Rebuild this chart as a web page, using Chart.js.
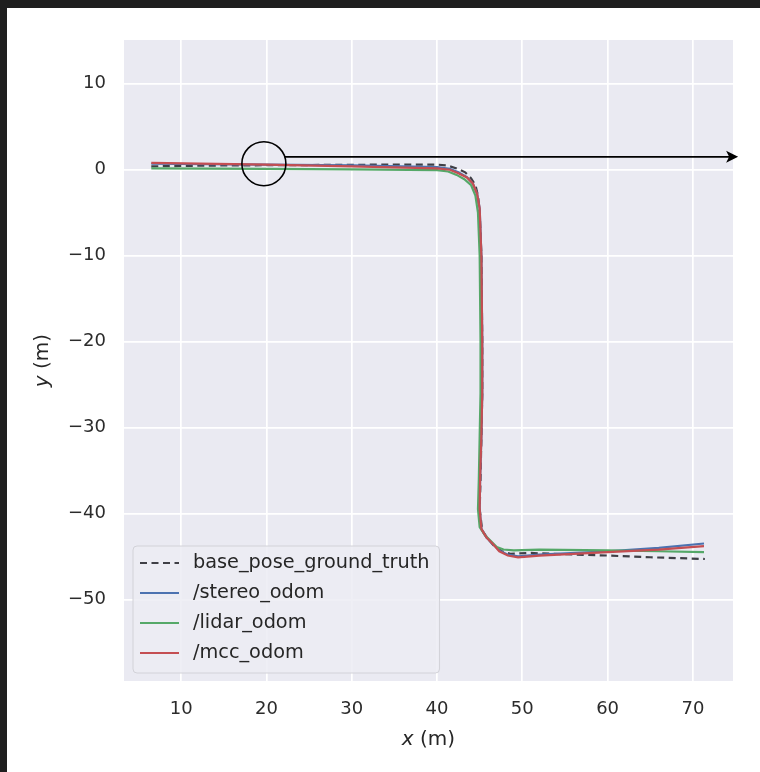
<!DOCTYPE html>
<html>
<head>
<meta charset="utf-8">
<script src="https://cdn.jsdelivr.net/npm/chart.js@4.4.1/dist/chart.umd.min.js"></script>
<style>
  html, body { margin: 0; padding: 0; background: #1f1f1f; width: 760px; height: 772px; overflow: hidden; }
  #wrap { position: absolute; left: 7px; top: 8px; width: 753px; height: 764px; background: #ffffff; }
  canvas { display: block; }
</style>
</head>
<body>
<div id="wrap"><canvas id="c" width="753" height="764"></canvas></div>
<script>
// ---- data ----
const xTicks = [10, 20, 30, 40, 50, 60, 70];
const yTicks = [-50, -40, -30, -20, -10, 0, 10];
const xRange = [3.3, 74.7];
const yRange = [-59.5, 15.1];

const seriesLabels = ['base_pose_ground_truth', '/stereo_odom', '/lidar_odom', '/mcc_odom'];

const gtX = [6.5, 15, 25, 35, 40, 41.2, 42.3, 43.3, 44.0, 44.5, 44.8, 45.0, 45.2, 45.3, 45.3, 45.2, 45.1, 45.0, 45.3, 46.0, 46.8, 47.6, 48.6, 51, 55, 60, 65, 71.4];
const gtY = [0.4, 0.5, 0.55, 0.6, 0.6, 0.5, 0.15, -0.3, -1.0, -1.8, -3.0, -5, -10, -20, -26, -31, -36, -39.5, -42, -43, -43.9, -44.4, -44.7, -44.6, -44.75, -44.9, -45.1, -45.3];

const stereoX = [6.5, 20, 30, 40, 41.5, 42.5, 43.5, 44.2, 44.7, 45.0, 45.2, 45.3, 45.3, 45.2, 45.05, 45.0, 45.2, 45.8, 46.5, 47.3, 48.3, 49.5, 52, 60, 66, 71.3];
const stereoY = [0.7, 0.6, 0.5, 0.3, 0.1, -0.3, -0.85, -1.6, -2.8, -4.5, -10, -20, -26, -31, -36, -39.5, -41.8, -42.8, -43.5, -44.3, -44.8, -45.0, -44.8, -44.4, -44.0, -43.5];

const lidarX = [6.5, 20, 30, 40, 41.3, 42.3, 43.2, 44.0, 44.5, 44.8, 45.0, 45.1, 45.1, 45.0, 44.9, 44.8, 45.0, 45.6, 46.3, 47.0, 47.8, 49, 52, 60, 66, 71.3];
const lidarY = [0.15, 0.1, 0.05, -0.05, -0.2, -0.6, -1.1, -1.8, -3, -5, -10, -20, -26, -31, -36, -39.5, -41.6, -42.5, -43.2, -43.9, -44.2, -44.3, -44.2, -44.3, -44.4, -44.5];

const mccX = [6.5, 20, 30, 40, 41.5, 42.5, 43.5, 44.2, 44.7, 45.0, 45.2, 45.3, 45.3, 45.2, 45.05, 45.0, 45.2, 45.8, 46.5, 47.3, 48.3, 49.5, 52, 60, 66, 71.3];
const mccY = [0.8, 0.6, 0.4, 0.15, 0.0, -0.4, -0.9, -1.6, -2.8, -4.5, -10, -20, -26, -31, -36, -39.5, -41.8, -42.8, -43.5, -44.4, -44.9, -45.1, -44.9, -44.5, -44.2, -43.8];

// annotation (circle + arrow), in data units
const circleCenter = [19.7, 0.7];
const arrowY = 1.5;
const arrowEndX = 75.3;

// ---- styling ----
const FONT = "'DejaVu Sans', 'Liberation Sans', sans-serif";
const colors = ['#3f3f46', '#4C72B0', '#55A868', '#C44E52'];

function pts(xs, ys) { return xs.map((x, i) => ({ x: x, y: ys[i] })); }

const seriesXs = [gtX, stereoX, lidarX, mccX];
const seriesYs = [gtY, stereoY, lidarY, mccY];

const datasets = seriesLabels.map((lab, i) => ({
  label: lab,
  data: pts(seriesXs[i], seriesYs[i]),
  borderColor: colors[i],
  backgroundColor: colors[i],
  borderWidth: 2.2,
  borderDash: i === 0 ? [7, 4.5] : [],
  showLine: true,
  pointRadius: 0,
  tension: 0,
  order: 4 - i
}));

const bgPlugin = {
  id: 'bg',
  beforeDraw(chart) {
    const { ctx, chartArea: a } = chart;
    ctx.save();
    ctx.fillStyle = '#EAEAF2';
    ctx.fillRect(a.left, a.top, a.right - a.left, a.bottom - a.top);
    ctx.restore();
  }
};

function fmt(v) { return v < 0 ? '\u2212' + Math.abs(v) : String(v); }

const overlayPlugin = {
  id: 'overlay',
  afterDraw(chart) {
    const { ctx, chartArea: a, scales } = chart;
    const xs = scales.x, ys = scales.y;
    ctx.save();

    // circle + arrow annotation
    const cx = xs.getPixelForValue(circleCenter[0]);
    const cy = ys.getPixelForValue(circleCenter[1]);
    const r = 22;
    ctx.strokeStyle = '#000';
    ctx.lineWidth = 1.6;
    ctx.beginPath();
    ctx.arc(cx, cy, r, 0, Math.PI * 2);
    ctx.stroke();
    const ay = ys.getPixelForValue(arrowY);
    const dx = Math.sqrt(Math.max(0, r * r - (ay - cy) * (ay - cy)));
    const ax0 = cx + dx;
    const ax1 = xs.getPixelForValue(arrowEndX);
    ctx.lineWidth = 1.8;
    ctx.beginPath();
    ctx.moveTo(ax0, ay);
    ctx.lineTo(ax1 - 6, ay);
    ctx.stroke();
    ctx.fillStyle = '#000';
    ctx.beginPath();
    ctx.moveTo(ax1, ay);
    ctx.lineTo(ax1 - 12, ay - 6);
    ctx.lineTo(ax1 - 9, ay);
    ctx.lineTo(ax1 - 12, ay + 6);
    ctx.closePath();
    ctx.fill();

    // legend
    const lfont = '19.3px ' + FONT;
    ctx.font = lfont;
    let maxW = 0;
    chart.data.datasets.forEach(d => { maxW = Math.max(maxW, ctx.measureText(d.label).width); });
    const rowH = 30;
    const bx = a.left + 9;
    const bh = rowH * chart.data.datasets.length + 7;
    const by = a.bottom - 8 - bh;
    const bw = 60 + maxW + 10;
    ctx.beginPath();
    const rr = 4;
    ctx.moveTo(bx + rr, by);
    ctx.lineTo(bx + bw - rr, by); ctx.quadraticCurveTo(bx + bw, by, bx + bw, by + rr);
    ctx.lineTo(bx + bw, by + bh - rr); ctx.quadraticCurveTo(bx + bw, by + bh, bx + bw - rr, by + bh);
    ctx.lineTo(bx + rr, by + bh); ctx.quadraticCurveTo(bx, by + bh, bx, by + bh - rr);
    ctx.lineTo(bx, by + rr); ctx.quadraticCurveTo(bx, by, bx + rr, by);
    ctx.closePath();
    ctx.fillStyle = 'rgba(236,236,243,0.85)';
    ctx.fill();
    ctx.strokeStyle = '#d2d2d8';
    ctx.lineWidth = 1;
    ctx.stroke();
    chart.data.datasets.forEach((d, i) => {
      const yy = by + 17 + i * rowH;
      ctx.strokeStyle = d.borderColor;
      ctx.lineWidth = 1.8;
      ctx.setLineDash(d.borderDash || []);
      ctx.beginPath();
      ctx.moveTo(bx + 7, yy);
      ctx.lineTo(bx + 46, yy);
      ctx.stroke();
      ctx.setLineDash([]);
      ctx.fillStyle = '#262626';
      ctx.textAlign = 'left';
      ctx.textBaseline = 'middle';
      ctx.font = lfont;
      ctx.fillText(d.label, bx + 60, yy);
    });

    // axis titles: italic variable + normal unit
    const tfont = '20px ' + FONT;
    const tifont = 'italic 20px ' + FONT;
    ctx.fillStyle = '#262626';
    ctx.textBaseline = 'middle';
    ctx.textAlign = 'left';
    // x title
    ctx.font = tifont; const w1 = ctx.measureText('x').width;
    ctx.font = tfont; const w2 = ctx.measureText(' (m)').width;
    const tx = (a.left + a.right) / 2 - (w1 + w2) / 2;
    const ty = a.bottom + 59;
    ctx.font = tifont; ctx.fillText('x', tx, ty);
    ctx.font = tfont; ctx.fillText(' (m)', tx + w1, ty);
    // y title
    ctx.save();
    ctx.translate(36, (a.top + a.bottom) / 2);
    ctx.rotate(-Math.PI / 2);
    ctx.font = tifont; const v1 = ctx.measureText('y').width;
    ctx.font = tfont; const v2 = ctx.measureText(' (m)').width;
    ctx.font = tifont; ctx.fillText('y', -(v1 + v2) / 2, 0);
    ctx.font = tfont; ctx.fillText(' (m)', -(v1 + v2) / 2 + v1, 0);
    ctx.restore();

    ctx.restore();
  }
};

new Chart(document.getElementById('c'), {
  type: 'scatter',
  data: { datasets: datasets },
  options: {
    responsive: false,
    animation: false,
    devicePixelRatio: 1,
    layout: { padding: { top: 32, right: 27, left: 0, bottom: 0 } },
    plugins: { legend: { display: false }, tooltip: { enabled: false } },
    scales: {
      x: {
        type: 'linear',
        min: xRange[0], max: xRange[1],
        afterFit(s) { s.height = 91; },
        afterBuildTicks(s) { s.ticks = xTicks.map(v => ({ value: v })); },
        grid: { color: '#ffffff', lineWidth: 1.7, drawTicks: false },
        border: { display: false },
        ticks: { color: '#2b2b2b', padding: 18, font: { family: FONT, size: 18 }, callback: fmt, maxRotation: 0 }
      },
      y: {
        type: 'linear',
        min: yRange[0], max: yRange[1],
        afterFit(s) { s.width = 117; },
        afterBuildTicks(s) { s.ticks = yTicks.map(v => ({ value: v })); },
        grid: { color: '#ffffff', lineWidth: 1.7, drawTicks: false },
        border: { display: false },
        ticks: { color: '#2b2b2b', padding: 18, font: { family: FONT, size: 18 }, callback: fmt }
      }
    }
  },
  plugins: [bgPlugin, overlayPlugin]
});
</script>
</body>
</html>
